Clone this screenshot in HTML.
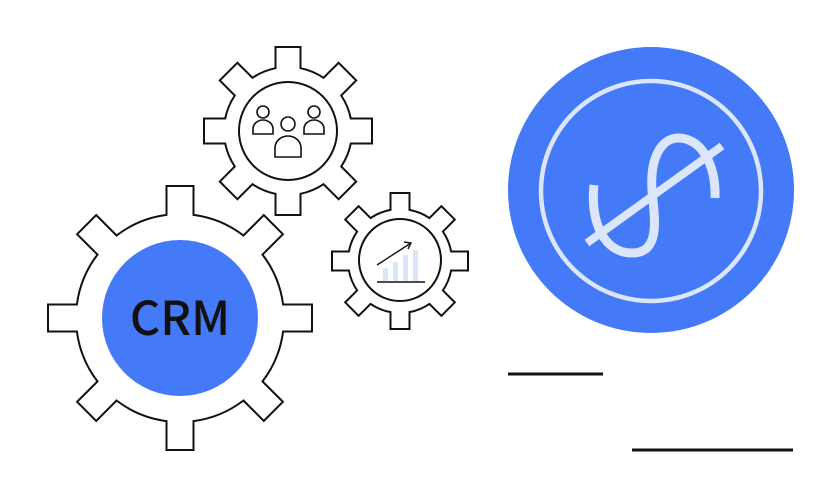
<!DOCTYPE html>
<html><head><style>html,body{margin:0;padding:0;background:#fff;width:840px;height:500px;overflow:hidden}</style></head>
<body>
<svg id="s" width="840" height="500" viewBox="0 0 840 500" xmlns="http://www.w3.org/2000/svg">
<g id="gears" fill="#fff" stroke="#111" stroke-width="2" stroke-linejoin="miter"></g>
<circle cx="180" cy="318" r="78" fill="#4479f8"/>
<text x="180" y="335" text-anchor="middle" font-family="Noto Sans CJK JP, Liberation Sans, sans-serif" font-weight="500" font-size="47" fill="#111">CRM</text>
<circle cx="288" cy="131" r="49" fill="none" stroke="#111" stroke-width="2"/>
<g fill="none" stroke="#111" stroke-width="1.6">
<circle cx="263" cy="112" r="6"/><path d="M253,134 v-5 a10,9 0 0 1 20,0 v5 z"/>
<circle cx="314" cy="112" r="6"/><path d="M304,134 v-5 a10,9 0 0 1 20,0 v5 z"/>
<circle cx="288" cy="124" r="7"/><path d="M275,157 v-9 a13,12 0 0 1 26,0 v9 z"/>
</g>
<circle cx="400" cy="260" r="41" fill="none" stroke="#111" stroke-width="2"/>
<g fill="#dbe5f8"><rect x="383" y="268" width="5" height="13"/><rect x="393" y="262" width="5" height="19"/><rect x="403" y="255" width="5" height="26"/><rect x="413" y="250" width="5" height="31"/></g>
<path d="M377,282 H425 M377,265 L411,243 M404,242 L411,243 L408,249" fill="none" stroke="#111" stroke-width="1.4"/>
<circle cx="651" cy="190" r="143" fill="#4479f8"/>
<circle cx="651" cy="191" r="110" fill="none" stroke="#dce6fa" stroke-width="4.5"/>
<path d="M594,185 C590,220 603,253 632,253 C662,253 654,215 652,190 C650,160 660,137 680,138 C705,140 716,170 715,198" fill="none" stroke="#dce6fa" stroke-width="9"/>
<path d="M587,243 L722,146" stroke="#dce6fa" stroke-width="8"/>
<path d="M508,374 H603 M632,450 H793" stroke="#111" stroke-width="3"/>
</svg>
<script>
function gear(cx,cy,rb,rt,w,n,off){var d="",h=w/2,a=Math.asin(h/rb);
for(var i=0;i<n;i++){var t=off+i*2*Math.PI/n;var ux=Math.cos(t),uy=Math.sin(t),px=-uy,py=ux;
var b1=[cx+rb*Math.cos(t-a),cy+rb*Math.sin(t-a)],b2=[cx+rb*Math.cos(t+a),cy+rb*Math.sin(t+a)];
var t1=[cx+rt*ux-h*px,cy+rt*uy-h*py],t2=[cx+rt*ux+h*px,cy+rt*uy+h*py];
d+=(i==0?"M":"A"+rb+","+rb+" 0 0 1 ")+b1[0].toFixed(1)+","+b1[1].toFixed(1)+" L"+t1[0].toFixed(1)+","+t1[1].toFixed(1)+" L"+t2[0].toFixed(1)+","+t2[1].toFixed(1)+" L"+b2[0].toFixed(1)+","+b2[1].toFixed(1)+" ";}
var t0=off,b0=[cx+rb*Math.cos(t0-a),cy+rb*Math.sin(t0-a)];d+="A"+rb+","+rb+" 0 0 1 "+b0[0].toFixed(1)+","+b0[1].toFixed(1)+"Z";
var p=document.createElementNS("http://www.w3.org/2000/svg","path");p.setAttribute("d",d);document.getElementById("gears").appendChild(p);}
gear(180,318,104,132,27,8,0);
gear(288,131,64,84,25,8,0);
gear(400,261,52,68,19,8,0);
</script>
</body></html>
